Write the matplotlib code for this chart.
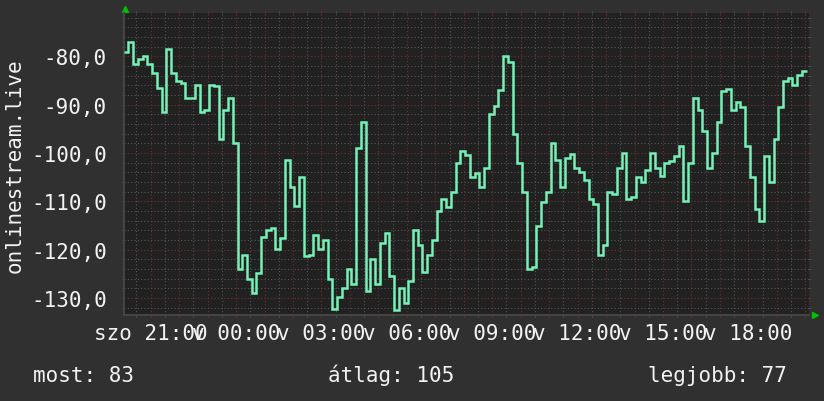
import numpy as np
import matplotlib
matplotlib.use("Agg")
import matplotlib.pyplot as plt
from matplotlib.ticker import FixedLocator, FixedFormatter, MultipleLocator, FuncFormatter

# signal level, one value per 10 minutes, starting a bit after Saturday 20:00
signal_values = [
    -79.0, -77.0, -81.5, -80.5, -79.8, -81.5, -83.5, -86.5, -91.5, -78.5,
    -83.5, -85.0, -85.5, -88.5, -88.5, -86.0, -91.5, -91.0, -86.0, -86.2,
    -97.0, -91.0, -88.5, -98.0, -124.0, -121.1, -126.0, -129.0, -124.8, -117.4,
    -116.0, -115.5, -119.9, -117.5, -101.5, -107.0, -111.0, -105.0, -121.3, -121.0,
    -117.0, -119.9, -118.0, -126.0, -132.3, -129.8, -128.0, -124.0, -127.0, -99.0,
    -93.6, -128.5, -121.9, -127.0, -118.5, -116.5, -125.5, -132.5, -128.0, -131.0,
    -126.5, -116.0, -119.0, -124.5, -121.0, -118.0, -112.0, -109.5, -111.2, -108.0,
    -102.0, -99.5, -100.4, -105.0, -104.2, -107.0, -103.0, -92.0, -90.3, -87.0,
    -79.8, -81.2, -96.0, -102.0, -108.0, -124.0, -123.5, -115.0, -110.2, -108.0,
    -98.0, -101.5, -107.0, -101.0, -100.2, -103.0, -104.0, -105.5, -109.5, -110.5,
    -121.0, -119.0, -108.0, -108.5, -103.0, -100.0, -109.5, -109.0, -105.0, -106.0,
    -103.5, -100.0, -103.0, -104.7, -102.0, -101.7, -100.5, -98.5, -110.0, -102.0,
    -88.5, -91.0, -95.5, -103.0, -100.0, -93.6, -87.2, -86.8, -91.0, -89.5,
    -90.5, -98.5, -105.0, -111.5, -114.0, -100.5, -106.0, -97.0, -90.5, -85.0,
    -84.5, -85.8, -83.8, -83.0,
]
start_hour = -0.95          # hours relative to Saturday 21:00
step_hours = 1 / 6

label_hours = [0, 3, 6, 9, 12, 15, 18, 21]
label_texts = ["szo 21:00", "v 00:00", "v 03:00", "v 06:00",
               "v 09:00", "v 12:00", "v 15:00", "v 18:00"]

stat_now = 83
stat_avg = 105
stat_best = 77
y_title = "onlinestream.live"

plt.rcParams["font.family"] = ["DejaVu Sans Mono", "DejaVu Sans"]
text_color = "#f2f2f2"

fig = plt.figure(figsize=(8.24, 4.02), dpi=100, facecolor="#303030")
ax = fig.add_axes([124 / 824, 1 - 316 / 402, 685 / 824, 302 / 402])
ax.set_facecolor("#212121")

edges = start_hour + np.arange(len(signal_values) + 1) * step_hours
ax.stairs(signal_values, edges, baseline=None, color="#76f1b8", linewidth=1.8, zorder=3)

ax.set_xlim(-0.938, 23.13)
ax.set_ylim(-133.5, -71.0)

hour_ticks = np.arange(0, 24)
ax.xaxis.set_major_locator(FixedLocator(hour_ticks))
ax.xaxis.set_major_formatter(FixedFormatter(
    [label_texts[label_hours.index(h)] if h in label_hours else "" for h in hour_ticks]))
ax.xaxis.set_minor_locator(MultipleLocator(0.5))
ax.yaxis.set_major_locator(MultipleLocator(10))
ax.yaxis.set_minor_locator(MultipleLocator(2))
ax.yaxis.set_major_formatter(FuncFormatter(lambda v, _: f"{v:.1f}".replace(".", ",")))

dots = (0, (1, 2))
ax.grid(which="major", color="#6e3030", linestyle=dots, linewidth=0.8)
ax.grid(which="minor", color="#555555", linestyle=dots, linewidth=0.8)
ax.set_axisbelow(True)

ax.tick_params(which="both", direction="out", length=1.5, top=True, right=True,
               colors="#6e3030", labelcolor=text_color, labelsize=15)
ax.tick_params(which="minor", colors="#555555")
ax.tick_params(axis="x", pad=4)
ax.tick_params(axis="y", pad=11)

for side in ("top", "right"):
    ax.spines[side].set_visible(False)
for side in ("left", "bottom"):
    ax.spines[side].set_color("#444444")
    ax.spines[side].set_linewidth(1.5)

# rrdtool-style axis arrows
ax.plot([0.0015], [1.013], marker="^", color="#00c000", markersize=4.5,
        transform=ax.transAxes, clip_on=False)
ax.plot([1.009], [0.0], marker=">", color="#00c000", markersize=4.5,
        transform=ax.transAxes, clip_on=False)

fig.text(15 / 824, 1 - 166 / 402, y_title, rotation=90, ha="center", va="center",
         color=text_color, fontsize=15)

baseline_y = 1 - 382 / 402
fig.text(33 / 824, baseline_y, f"most: {stat_now}", color=text_color, fontsize=15, va="baseline")
fig.text(328 / 824, baseline_y, f"átlag: {stat_avg}", color=text_color, fontsize=15, va="baseline")
fig.text(648 / 824, baseline_y, f"legjobb: {stat_best}", color=text_color, fontsize=15, va="baseline")

fig.savefig("out.png", dpi=100, facecolor=fig.get_facecolor())
